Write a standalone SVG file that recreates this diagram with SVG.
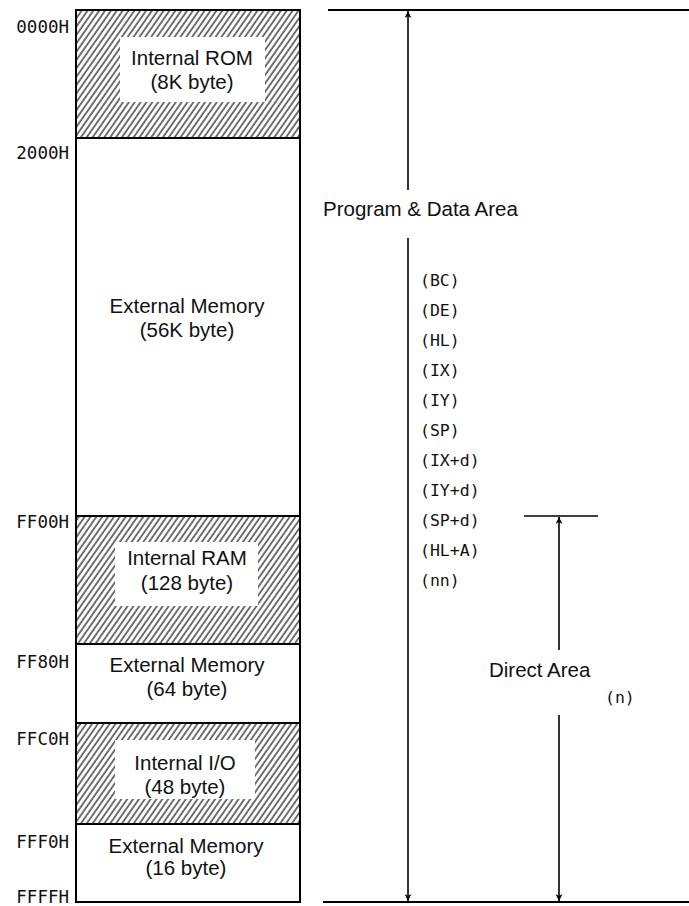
<svg xmlns="http://www.w3.org/2000/svg" width="689" height="906" viewBox="0 0 689 906">
<style>
.box{fill:#fff;stroke:#000;stroke-width:2}
.hatch{fill:url(#hatch);stroke:#000;stroke-width:2}
.inner{fill:#fff;stroke:none}
.lbl{font-family:"Liberation Sans",Arial,sans-serif;font-size:20.5px;fill:#111;text-anchor:middle}
.addr{font-family:"DejaVu Sans Mono",monospace;font-size:17.5px;fill:#111;text-anchor:end}
.reg{font-family:"DejaVu Sans Mono",monospace;font-size:16.5px;fill:#111}
.ln{stroke:#000;stroke-width:2;fill:none}
.arr{stroke:#000;stroke-width:1.6;fill:none}
</style>
<defs>
<pattern id="hatch" patternUnits="userSpaceOnUse" width="4.8" height="10" patternTransform="rotate(35)">
<rect width="4.8" height="10" fill="#fff"/>
<line x1="1" y1="0" x2="1" y2="10" stroke="#000" stroke-width="1.1"/>
</pattern>
<marker id="ah" viewBox="0 0 10 10" refX="10" refY="5" markerWidth="10" markerHeight="7" markerUnits="userSpaceOnUse" orient="auto-start-reverse">
<path d="M0,0 L10,5 L0,10 L3,5 z" fill="#000"/>
</marker>
</defs>

<g id="rom">
<rect class="hatch" x="76" y="10" width="224" height="128"/>
<rect class="inner" x="120" y="37" width="145" height="65"/>
<text class="lbl" x="192" y="65">Internal ROM</text>
<text class="lbl" x="192" y="89">(8K byte)</text>
</g>
<g id="ext56">
<rect class="box" x="76" y="138" width="224" height="378"/>
<text class="lbl" x="187" y="313">External Memory</text>
<text class="lbl" x="187" y="337">(56K byte)</text>
</g>
<g id="ram">
<rect class="hatch" x="76" y="516" width="224" height="128"/>
<rect class="inner" x="115" y="542" width="143" height="64"/>
<text class="lbl" x="187" y="565">Internal RAM</text>
<text class="lbl" x="187" y="590">(128 byte)</text>
</g>
<g id="ext64">
<rect class="box" x="76" y="644" width="224" height="79"/>
<text class="lbl" x="187" y="672">External Memory</text>
<text class="lbl" x="187" y="696">(64 byte)</text>
</g>
<g id="io">
<rect class="hatch" x="76" y="723" width="224" height="101"/>
<rect class="inner" x="115" y="740" width="140" height="59"/>
<text class="lbl" x="185" y="770">Internal  I/O</text>
<text class="lbl" x="185" y="794">(48 byte)</text>
</g>
<g id="ext16">
<rect class="box" x="76" y="824" width="224" height="78"/>
<text class="lbl" x="186" y="853">External Memory</text>
<text class="lbl" x="186" y="875">(16 byte)</text>
</g>

<g id="addresses">
<text class="addr" x="69" y="33">0000H</text>
<text class="addr" x="69" y="159">2000H</text>
<text class="addr" x="69" y="528">FF00H</text>
<text class="addr" x="69" y="668">FF80H</text>
<text class="addr" x="69" y="745">FFC0H</text>
<text class="addr" x="69" y="848">FFF0H</text>
<text class="addr" x="69" y="903">FFFFH</text>
</g>

<g id="program-area">
<text class="lbl" x="323" y="216" style="text-anchor:start">Program &amp; Data Area</text>
</g>
<g id="registers">
<text class="reg" x="420" y="286">(BC)</text>
<text class="reg" x="420" y="316">(DE)</text>
<text class="reg" x="420" y="346">(HL)</text>
<text class="reg" x="420" y="376">(IX)</text>
<text class="reg" x="420" y="406">(IY)</text>
<text class="reg" x="420" y="436">(SP)</text>
<text class="reg" x="420" y="466">(IX+d)</text>
<text class="reg" x="420" y="496">(IY+d)</text>
<text class="reg" x="420" y="526">(SP+d)</text>
<text class="reg" x="420" y="556">(HL+A)</text>
<text class="reg" x="420" y="586">(nn)</text>
</g>
<g id="direct-area">
<text class="lbl" x="489" y="677" style="text-anchor:start">Direct Area</text>
<text class="reg" x="605" y="703">(n)</text>
</g>

<g id="connectors">
<line class="ln" x1="328" y1="10" x2="689" y2="10"/>
<line class="ln" x1="323" y1="902" x2="689" y2="902"/>
<line class="arr" x1="524" y1="516" x2="598" y2="516"/>
<line class="arr" x1="408" y1="190" x2="408" y2="11" marker-end="url(#ah)"/>
<line class="arr" x1="408" y1="238" x2="408" y2="901" marker-end="url(#ah)"/>
<line class="arr" x1="559" y1="650" x2="559" y2="517" marker-end="url(#ah)"/>
<line class="arr" x1="559" y1="715" x2="559" y2="901" marker-end="url(#ah)"/>
</g>
</svg>
